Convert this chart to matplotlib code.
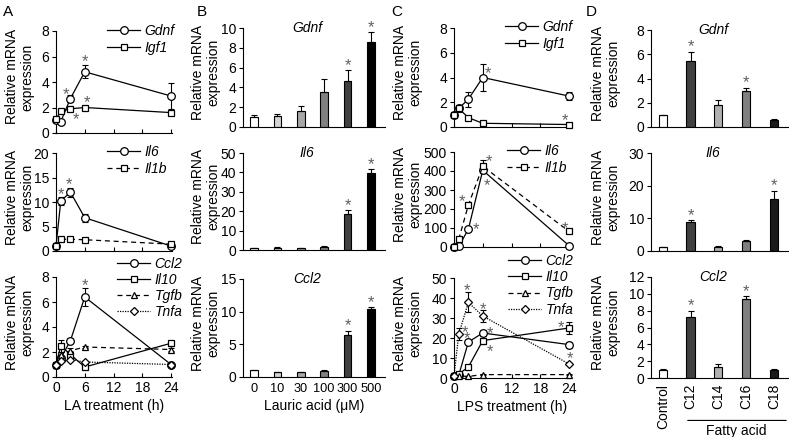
import numpy as np
import matplotlib.pyplot as plt

plt.rcParams['font.family'] = ['Liberation Sans', 'DejaVu Sans']
plt.rcParams['font.size'] = 10
plt.rcParams['axes.linewidth'] = 0.8

W, H = 789, 437

# ---------------- data ----------------
hours = [0, 1, 3, 6, 24]

# A: LA treatment
a_gdnf = [1.0, 0.9, 2.7, 4.8, 2.9]
a_gdnf_err = [0.1, 0.1, 0.3, 0.5, 1.0]
a_igf1 = [1.1, 1.7, 1.9, 2.0, 1.6]
a_igf1_err = [0.1, 0.1, 0.2, 0.15, 0.15]
a_il6 = [1.0, 10.2, 12.0, 6.8, 1.0]
a_il6_err = [0.1, 0.8, 0.9, 0.8, 0.2]
a_il1b = [1.0, 2.4, 2.4, 2.3, 1.4]
a_il1b_err = [0.1, 0.2, 0.2, 0.2, 0.2]
a_ccl2 = [1.0, 1.5, 2.9, 6.4, 1.0]
a_ccl2_err = [0.1, 0.2, 0.2, 0.7, 0.1]
a_il10 = [1.0, 2.5, 1.8, 0.8, 2.7]
a_il10_err = [0.1, 0.5, 0.3, 0.1, 0.2]
a_tgfb = [1.0, 1.8, 2.1, 2.4, 2.2]
a_tgfb_err = [0.1, 0.2, 0.2, 0.1, 0.1]
a_tnfa = [1.0, 1.3, 1.4, 1.2, 1.0]
a_tnfa_err = [0.1, 0.1, 0.1, 0.1, 0.1]

# B: lauric acid dose
doses = ['0', '10', '30', '100', '300', '500']
b_gdnf = [1.0, 1.08, 1.6, 3.5, 4.6, 8.6]
b_gdnf_err = [0.18, 0.27, 0.5, 1.3, 1.15, 1.0]
b_gdnf_sig = [0, 0, 0, 0, 1, 1]
b_il6 = [0.9, 1.2, 0.9, 1.8, 18.5, 39.5]
b_il6_err = [0.2, 0.3, 0.2, 0.5, 2.0, 2.0]
b_il6_sig = [0, 0, 0, 0, 1, 1]
b_ccl2 = [1.0, 0.75, 0.7, 0.95, 6.45, 10.35]
b_ccl2_err = [0.1, 0.05, 0.05, 0.05, 0.65, 0.3]
b_ccl2_sig = [0, 0, 0, 0, 1, 1]

# C: LPS treatment
c_gdnf = [1.0, 1.5, 2.25, 4.0, 2.5]
c_gdnf_err = [0.1, 0.3, 0.6, 1.1, 0.3]
c_igf1 = [1.0, 1.5, 0.75, 0.3, 0.2]
c_igf1_err = [0.1, 0.2, 0.1, 0.05, 0.05]
c_il6 = [1, 3, 94, 404, 7]
c_il6_err = [0.5, 1, 10, 15, 3]
c_il1b = [1, 42, 221, 425, 82]
c_il1b_err = [0.5, 5, 15, 35, 8]
c_ccl2 = [1, 1.5, 18, 22.5, 16.7]
c_ccl2_err = [0.2, 0.3, 1, 1.5, 1.5]
c_il10 = [1, 2, 5.5, 18.7, 25]
c_il10_err = [0.2, 0.3, 0.8, 1.5, 3]
c_tgfb = [1, 1.0, 0.8, 1.7, 1.7]
c_tgfb_err = [0.1, 0.1, 0.1, 0.2, 0.2]
c_tnfa = [1, 22, 37.8, 31, 7]
c_tnfa_err = [0.2, 3, 5, 3, 0.5]

# D: fatty acids
fatty = ['Control', 'C12', 'C14', 'C16', 'C18']
d_gdnf = [0.97, 5.43, 1.8, 2.95, 0.6]
d_gdnf_err = [0.05, 0.77, 0.4, 0.28, 0.08]
d_gdnf_sig = [0, 1, 0, 1, 0]
d_il6 = [1.1, 9.0, 1.3, 3.2, 15.9]
d_il6_err = [0.2, 0.5, 0.2, 0.2, 2.5]
d_il6_sig = [0, 1, 0, 0, 1]
d_ccl2 = [1.0, 7.3, 1.3, 9.43, 1.0]
d_ccl2_err = [0.05, 0.7, 0.4, 0.3, 0.05]
d_ccl2_sig = [0, 1, 0, 1, 0]

b_colors = ['white', '#d4d4d4', '#a6a6a6', '#808080', '#404040', '#000000']
d_colors = ['white', '#404040', '#b0b0b0', '#808080', '#1a1a1a']

STAR_C = '#606060'
YLAB = 'Relative mRNA\nexpression'

fig = plt.figure(figsize=(W / 100, H / 100), dpi=100)


def add_ax(l, t, r, b):
    ax = fig.add_axes([l / W, 1 - b / H, (r - l) / W, (b - t) / H])
    ax.spines['top'].set_visible(False)
    ax.spines['right'].set_visible(False)
    ax.tick_params(axis='y', direction='out', length=3, width=0.8, pad=2)
    return ax


def ylab(ax, off_px, yfrac=0.55):
    ax.set_ylabel(YLAB, linespacing=1.05)
    wpx = ax.get_position().width * W
    ax.yaxis.set_label_coords(-off_px / wpx, yfrac)


def star(ax, x, y, dx, dy):
    # dx, dy in pixels (dy positive = down)
    ax.annotate('*', xy=(x, y), xytext=(dx * 0.72, -dy * 0.72 - 3),
                textcoords='offset points', ha='center', va='center',
                color=STAR_C, fontsize=12, annotation_clip=False)


def line_panel(ax, series, ylim, yticks, stars, leg_xy, spacing, bottom=False):
    for vals, errs, mk, ms, ls, lab in series:
        ax.errorbar(hours, vals, yerr=errs, fmt='none', ecolor='k',
                    elinewidth=0.8, capsize=2, capthick=0.8, zorder=2, clip_on=False)
        ax.plot(hours, vals, ls=ls, color='k', lw=0.9, marker=mk, ms=ms,
                mfc='white', mec='k', mew=0.9, label=lab, zorder=3, clip_on=False)
    ax.set_xlim(0, 24.2)
    ax.set_ylim(*ylim)
    ax.set_yticks(yticks)
    ax.set_xticks([0, 6, 12, 18, 24])
    ax.tick_params(axis='x', direction='in', length=3, width=0.8, pad=3)
    if not bottom:
        ax.set_xticklabels([])
    for vals, i, dx, dy in stars:
        star(ax, hours[i], vals[i], dx, dy)
    ax.legend(loc='upper left', bbox_to_anchor=(leg_xy[0] / W, 1 - leg_xy[1] / H),
              bbox_transform=fig.transFigure, frameon=False, numpoints=1,
              handlelength=2.4, handletextpad=0.3, labelspacing=spacing,
              borderpad=0, borderaxespad=0, prop={'style': 'italic', 'size': 10})


def bar_panel(ax, labels, vals, errs, sig, colors, title, ylim, yticks, xlim, width, bottom=False):
    x = np.arange(len(vals))
    ax.bar(x, vals, width, color=colors, edgecolor='k', linewidth=0.8,
           yerr=[np.zeros(len(errs)), errs], capsize=2,
           error_kw=dict(elinewidth=0.8, capthick=0.8, ecolor='k'))
    for i in range(len(vals)):
        if sig[i]:
            star(ax, x[i], vals[i] + errs[i], 0, -9)
    ax.set_xlim(*xlim)
    ax.set_ylim(*ylim)
    ax.set_yticks(yticks)
    ax.set_xticks(x)
    ax.tick_params(axis='x', length=0, pad=4)
    if bottom:
        ax.set_xticklabels(labels)
    else:
        ax.set_xticklabels([])
    ax.text(0.45, 1.0, title, transform=ax.transAxes, ha='center', va='center',
            style='italic', fontsize=10)


# ---------------- panel A ----------------
ax = add_ax(56, 31, 172, 133)
line_panel(ax, [(a_gdnf, a_gdnf_err, 'o', 5.5, '-', 'Gdnf'),
                (a_igf1, a_igf1_err, 's', 5, '-', 'Igf1')],
           (0, 8), [0, 2, 4, 6, 8],
           [(a_gdnf, 2, -4, -8), (a_igf1, 2, 6, 7), (a_gdnf, 3, 0, -14), (a_igf1, 3, 2, -9)],
           (107, 24), 0.2)
ylab(ax, 22)

ax = add_ax(56, 153, 172, 251)
line_panel(ax, [(a_il6, a_il6_err, 'o', 5.5, '-', 'Il6'),
                (a_il1b, a_il1b_err, 's', 5, (0, (4, 3)), 'Il1b')],
           (0, 20), [0, 5, 10, 15, 20],
           [(a_il6, 1, 0, -11), (a_il6, 2, -1, -12)],
           (107, 145), 0.2)
ylab(ax, 22)

ax = add_ax(56, 277, 172, 377)
line_panel(ax, [(a_ccl2, a_ccl2_err, 'o', 5.5, '-', 'Ccl2'),
                (a_il10, a_il10_err, 's', 5, '-', 'Il10'),
                (a_tgfb, a_tgfb_err, '^', 5, (0, (4, 3)), 'Tgfb'),
                (a_tnfa, a_tnfa_err, 'D', 4, (0, (1, 1)), 'Tnfa')],
           (0, 8), [0, 2, 4, 6, 8],
           [(a_ccl2, 3, 0, -16)],
           (117, 257), 0.14, bottom=True)
ax.set_xlabel('LA treatment (h)', labelpad=3)
ylab(ax, 22)

# ---------------- panel B ----------------
bx = (-0.47, 5.6)
ax = add_ax(243, 28, 385, 127)
bar_panel(ax, doses, b_gdnf, b_gdnf_err, b_gdnf_sig, b_colors, 'Gdnf',
          (0, 10), [0, 2, 4, 6, 8, 10], bx, 0.33)
ylab(ax, 23)
ax = add_ax(243, 153, 385, 250)
bar_panel(ax, doses, b_il6, b_il6_err, b_il6_sig, b_colors, 'Il6',
          (0, 50), [0, 10, 20, 30, 40, 50], bx, 0.33)
ylab(ax, 23)
ax = add_ax(243, 279, 385, 377)
bar_panel(ax, doses, b_ccl2, b_ccl2_err, b_ccl2_sig, b_colors, 'Ccl2',
          (0, 15), [0, 5, 10, 15], bx, 0.33, bottom=True)
ax.tick_params(axis='x', labelsize=9.2)
ax.set_xlabel('Lauric acid (μM)', labelpad=3)
ylab(ax, 23)

# ---------------- panel C ----------------
ax = add_ax(454, 28, 570, 127)
line_panel(ax, [(c_gdnf, c_gdnf_err, 'o', 5.5, '-', 'Gdnf'),
                (c_igf1, c_igf1_err, 's', 5, '-', 'Igf1')],
           (0, 8), [0, 2, 4, 6, 8],
           [(c_gdnf, 3, 5, -8), (c_igf1, 4, -4, -8)],
           (505, 20), 0.2)
ylab(ax, 32)

ax = add_ax(454, 152, 570, 247)
line_panel(ax, [(c_il6, c_il6_err, 'o', 5.5, '-', 'Il6'),
                (c_il1b, c_il1b_err, 's', 5, (0, (4, 3)), 'Il1b')],
           (0, 500), [0, 100, 200, 300, 400, 500],
           [(c_il1b, 2, -6, -8), (c_il6, 2, 8, -4), (c_il1b, 3, 6, -9),
            (c_il6, 3, 4, 11), (c_il1b, 4, -4, -7)],
           (507, 144), 0.2)
ylab(ax, 32)

ax = add_ax(454, 278, 570, 378)
line_panel(ax, [(c_ccl2, c_ccl2_err, 'o', 5.5, '-', 'Ccl2'),
                (c_il10, c_il10_err, 's', 5, '-', 'Il10'),
                (c_tgfb, c_tgfb_err, '^', 5, (0, (4, 3)), 'Tgfb'),
                (c_tnfa, c_tnfa_err, 'D', 4, (0, (1, 1)), 'Tnfa')],
           (0, 50), [0, 10, 20, 30, 40, 50],
           [(c_tnfa, 1, 6, -6), (c_tnfa, 2, -1, -16), (c_ccl2, 2, -1, -8),
            (c_tnfa, 3, 0, -11), (c_ccl2, 3, 7, -4), (c_il10, 3, 7, 7),
            (c_il10, 4, -8, -5), (c_tnfa, 4, 1, -10)],
           (508, 254), 0.16, bottom=True)
ax.set_xlabel('LPS treatment (h)', labelpad=3)
ylab(ax, 32)

# ---------------- panel D ----------------
dx_lim = (-0.43, 4.55)
ax = add_ax(651, 30, 789, 127)
bar_panel(ax, fatty, d_gdnf, d_gdnf_err, d_gdnf_sig, d_colors, 'Gdnf',
          (0, 8), [0, 2, 4, 6, 8], dx_lim, 0.3)
ylab(ax, 31)
ax = add_ax(651, 153, 789, 251)
bar_panel(ax, fatty, d_il6, d_il6_err, d_il6_sig, d_colors, 'Il6',
          (0, 30), [0, 10, 20, 30], dx_lim, 0.3)
ylab(ax, 31)
ax = add_ax(651, 277, 789, 378)
bar_panel(ax, fatty, d_ccl2, d_ccl2_err, d_ccl2_sig, d_colors, 'Ccl2',
          (0, 12), [0, 2, 4, 6, 8, 10, 12], dx_lim, 0.3, bottom=True)
for lbl in ax.get_xticklabels():
    lbl.set_rotation(90)
ylab(ax, 31)
ax.annotate('', xy=(1.0, -0.42), xytext=(0.246, -0.42), xycoords='axes fraction',
            arrowprops=dict(arrowstyle='-', lw=0.8, color='k'), annotation_clip=False)
ax.text(0.62, -0.52, 'Fatty acid', transform=ax.transAxes, ha='center', va='center')

# panel letters
for lt, xp in zip(['A', 'B', 'C', 'D'], [3, 197, 391, 586]):
    fig.text(xp / W, 1 - 12 / H, lt, fontsize=11, ha='left', va='center')

fig.savefig('out.png', dpi=100)
